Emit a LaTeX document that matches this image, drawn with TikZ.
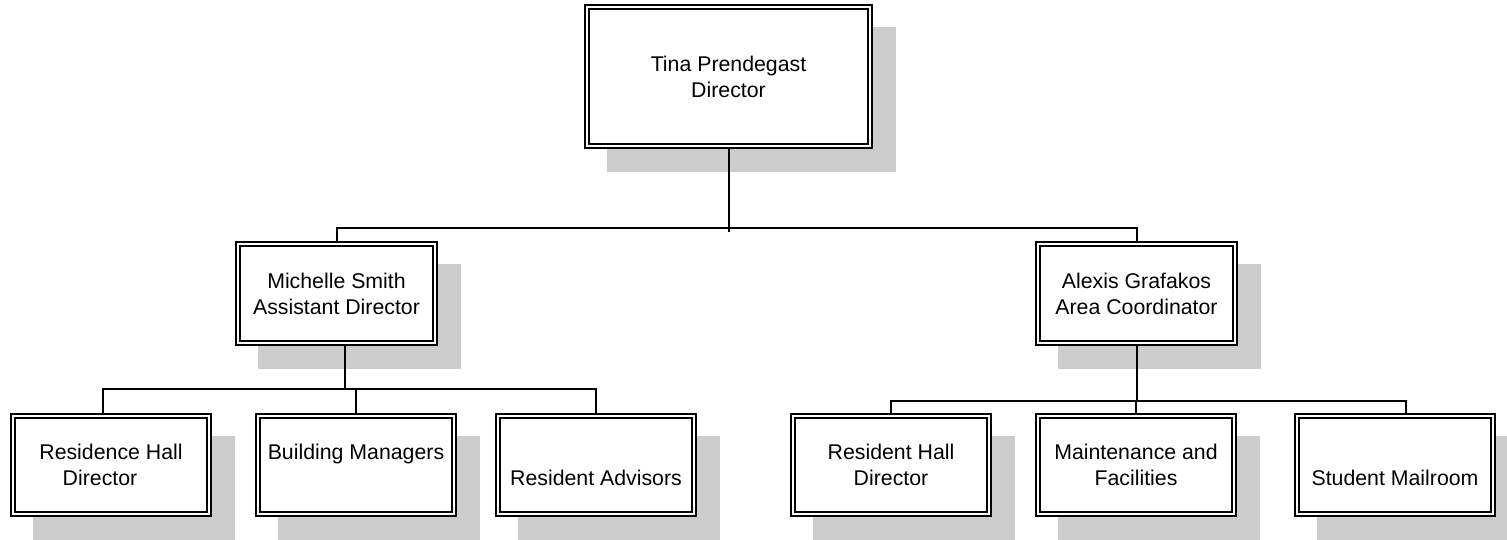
\documentclass[tikz,border=0pt]{standalone}
\usepackage{fontspec}
\setmainfont{Liberation Sans}
\usetikzlibrary{backgrounds}
\definecolor{shadowgray}{HTML}{CCCCCC}
\tikzset{
 orgbox/.style={draw=black, double=white, line width=1.8pt, double distance=2.4pt, fill=white, inner sep=0pt, outer sep=3pt, align=center, font=\fontsize{21.3}{26}\selectfont},
 topbox/.style={orgbox, minimum width=283pt, minimum height=139pt},
 midbox/.style={orgbox, minimum width=197pt, minimum height=99pt},
 lowbox/.style={orgbox, minimum width=196pt, minimum height=98pt},
 link/.style={line width=2pt, black},
 shade/.style={fill=shadowgray}
}
\begin{document}
\begin{tikzpicture}[x=1pt,y=-1pt]
\useasboundingbox (0,0) rectangle (1507,540);
\node[topbox] (T) at (728.5,76.5) {Tina Prendegast\\Director};
\node[midbox] (M1) at (336.5,293.5) {Michelle Smith\\Assistant Director};
\node[midbox] (M2) at (1136.5,293.5) {Alexis Grafakos\\Area Coordinator};
\node[lowbox] (B1) at (111,465) {Residence Hall\\Director\rule{22pt}{0pt}};
\node[lowbox] (B2) at (356,465) {Building Managers\\\mbox{}};
\node[lowbox] (B3) at (596,465) {\vphantom{Bd}\\Resident Advisors};
\node[lowbox] (B4) at (891,465) {Resident Hall\\Director};
\node[lowbox] (B5) at (1136,465) {Maintenance and\\Facilities};
\node[lowbox] (B6) at (1395,465) {\vphantom{Bd}\\Student Mailroom};
\begin{pgfonlayer}{background}
\foreach \n in {T,M1,M2,B1,B2,B3,B4,B5,B6}
  \fill[shade] ([shift={(23,23)}]\n.south west) rectangle ([shift={(23,23)}]\n.north east);
\end{pgfonlayer}
\coordinate (busA) at (0,228);
\coordinate (busB) at (0,389);
\coordinate (busC) at (0,401);
\draw[link] (T.south) -- ([yshift=-4pt]T.south |- busA);
\draw[link] (M1.north) -- (M1.north |- busA) -- (M2.north |- busA) -- (M2.north);
\draw[link] ([xshift=8pt]M1.south) -- ([xshift=8pt]M1.south |- busB);
\draw[link] ([xshift=-8pt]B1.north) -- ([xshift=-8pt]B1.north |- busB) -- (B3.north |- busB) -- (B3.north);
\draw[link] (B2.north) -- (B2.north |- busB);
\draw[link] (M2.south) -- (M2.south |- busC);
\draw[link] (B4.north) -- (B4.north |- busC) -- ([xshift=11pt]B6.north |- busC) -- ([xshift=11pt]B6.north);
\draw[link] (B5.north) -- (B5.north |- busC);
\end{tikzpicture}
\end{document}
